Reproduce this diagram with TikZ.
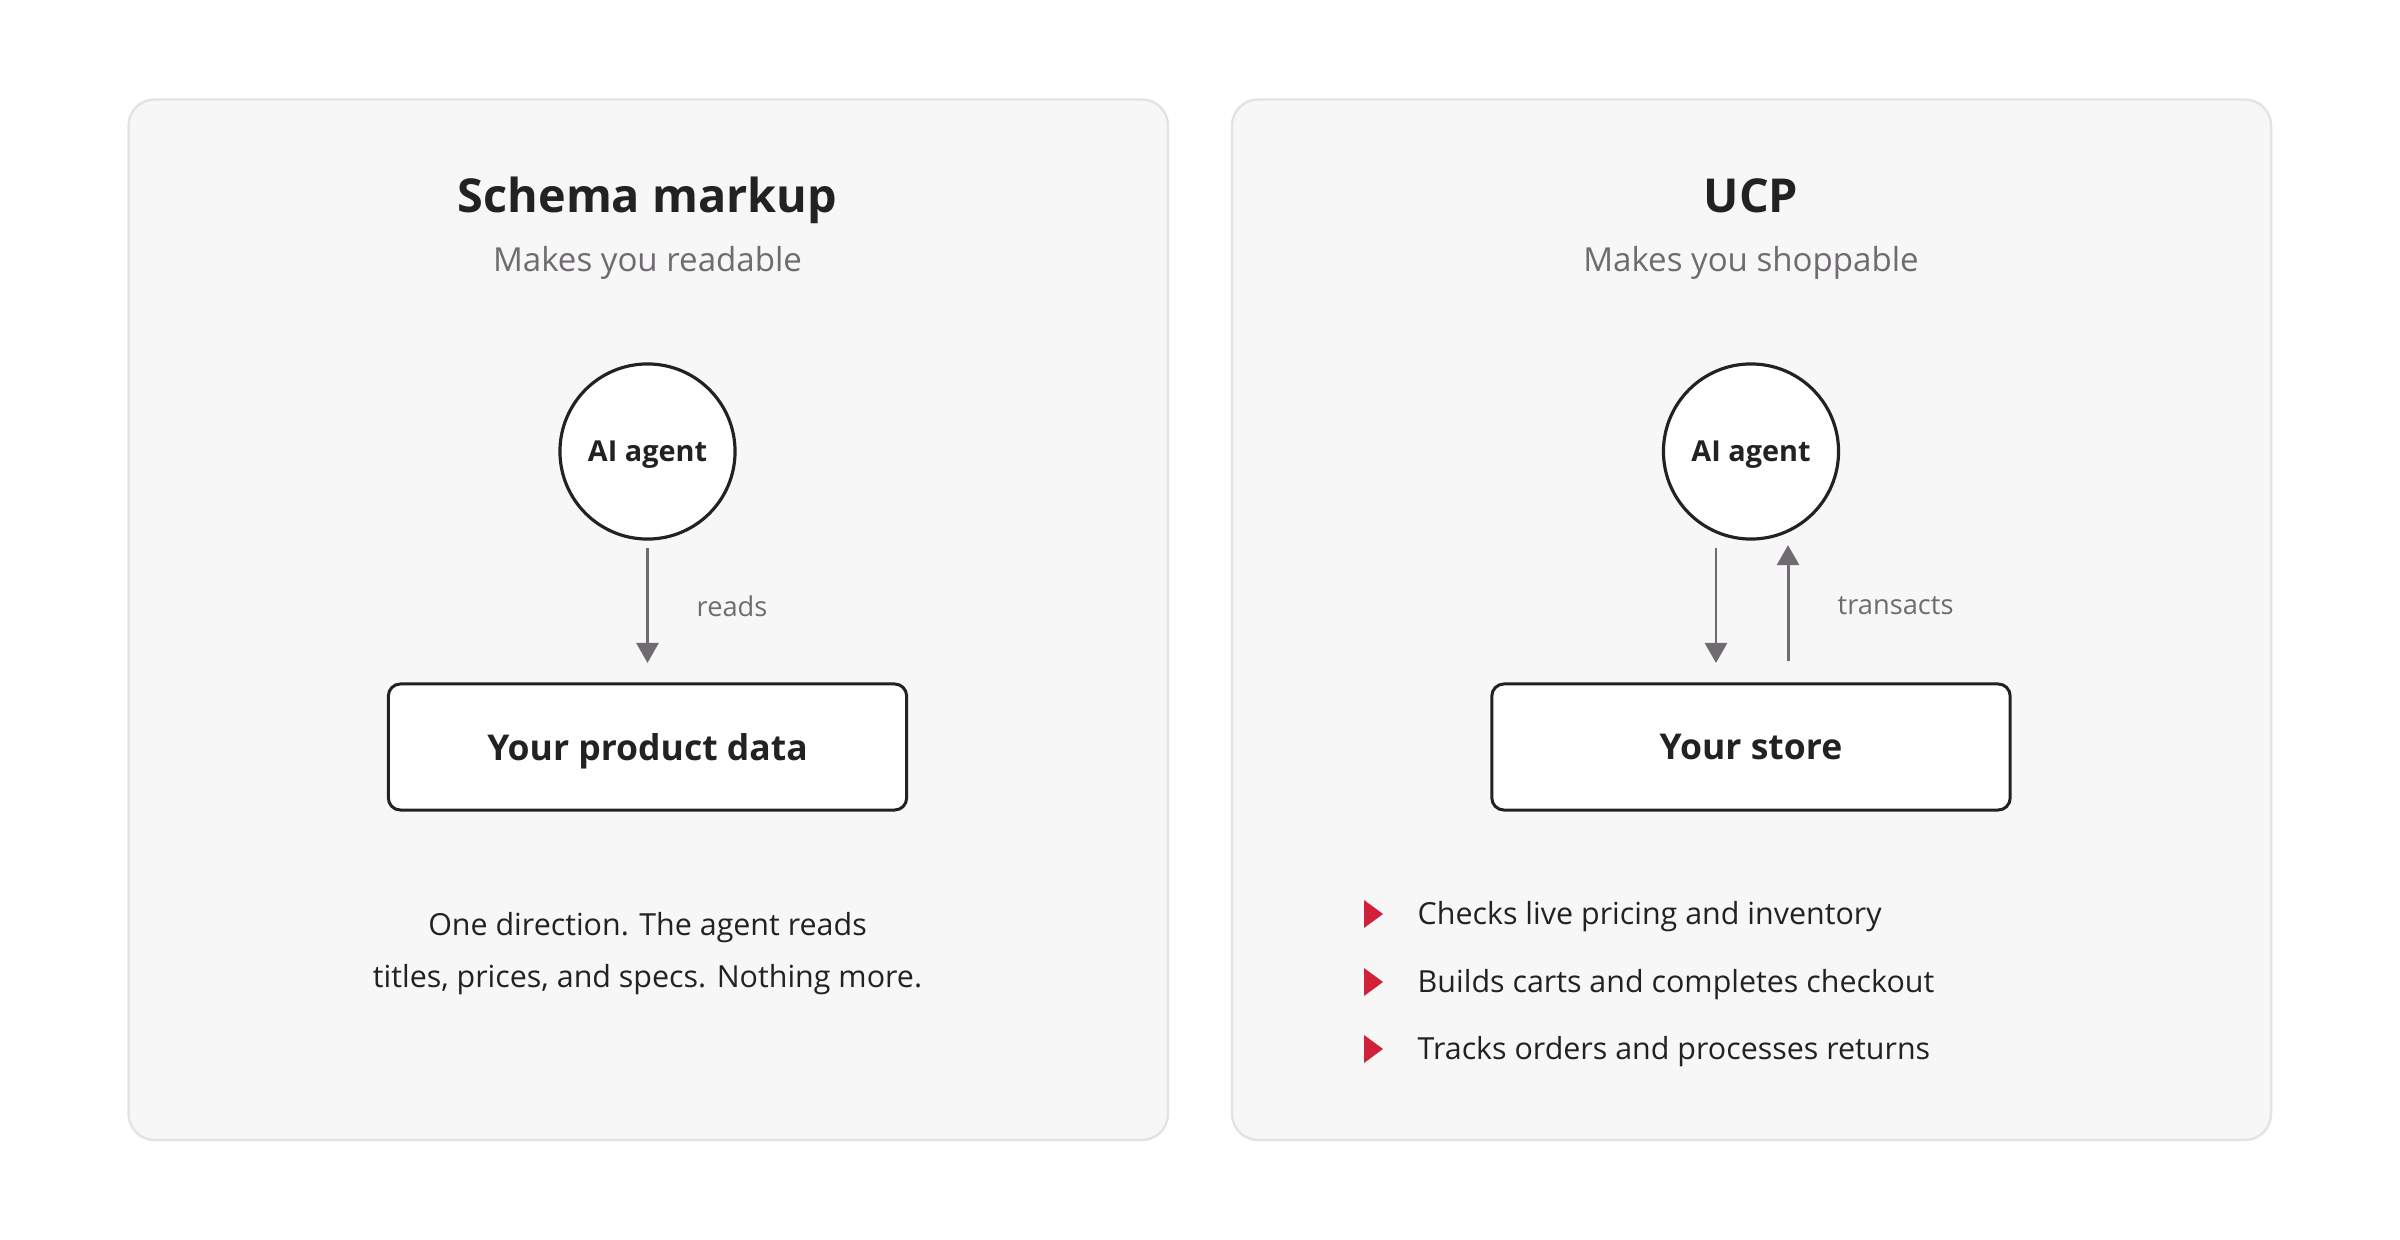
\documentclass[tikz,border=0pt]{standalone}
\usepackage{fontspec}
\setmainfont{Open Sans}
\usetikzlibrary{arrows.meta}
\definecolor{tinta}{HTML}{222222}
\definecolor{gris}{HTML}{6F6B70}
\definecolor{fondo}{HTML}{F7F7F7}
\definecolor{borde}{HTML}{E3E3E3}
\definecolor{rojo}{HTML}{D0203A}
\begin{document}
\begin{tikzpicture}[
    x=0.01cm, y=-0.01cm,
    every node/.style={text=tinta, inner sep=0pt},
    panel/.style={fill=fondo, draw=borde, line width=0.7pt, rounded corners=0.26cm},
    titulo/.style={font=\fontsize{13.3}{16}\selectfont\bfseries, anchor=base},
    subtitulo/.style={font=\fontsize{9.4}{11}\selectfont, text=gris, anchor=base},
    agente/.style={circle, draw=tinta, fill=white, line width=0.9pt,
        minimum size=1.75cm, text depth=0pt,
        font=\fontsize{8.2}{10}\selectfont\bfseries},
    caja/.style={draw=tinta, fill=white, line width=0.85pt, rounded corners=0.12cm,
        minimum width=5.18cm, minimum height=1.26cm, text depth=0pt,
        font=\fontsize{10.1}{12}\selectfont\bfseries},
    flecha/.style={draw=gris, line width=0.85pt, -{Triangle[width=0.22cm,length=0.2cm]}},
    etiqueta/.style={font=\fontsize{7.75}{9}\selectfont, text=gris, anchor=west},
    cuerpo/.style={font=\fontsize{8.65}{10}\selectfont, anchor=base}]
    \useasboundingbox (0,0) rectangle (2400,1240);

    % Paneles de fondo.
    \draw[panel] (128.6,99.5) rectangle (1168,1140);
    \draw[panel] (1232,99.5) rectangle (2271,1140);

    % Panel izquierdo: solo lectura.
    \node[titulo] (tituloA) at (647.5,213) {Schema markup};
    \node[subtitulo] (subA) at (647.5,272) {Makes you readable};
    \node[agente] (agA) at (647.5,451.5) {AI agent};
    \node[caja] (datos) at (647.5,747) {Your product data};
    \draw[flecha, shorten <=0.075cm, shorten >=0.195cm] (agA.south) -- (datos.north);
    \node[etiqueta] (lecA) at (696,606) {reads};
    \node[cuerpo] (notaA) at (647.5,935) {One direction. The agent reads};
    \node[cuerpo] (notaB) at (647.5,987) {titles, prices, and specs. Nothing more.};

    % Panel derecho: ida y vuelta.
    \node[titulo] (tituloB) at (1751,213) {UCP};
    \node[subtitulo] (subB) at (1751,272) {Makes you shoppable};
    \node[agente] (agB) at (1751,451.5) {AI agent};
    \node[caja] (tienda) at (1751,747) {Your store};
    \draw[flecha, shorten <=0.075cm, shorten >=0.195cm]
        ([xshift=-0.35cm]agB.south) -- ([xshift=-0.35cm]tienda.north);
    \draw[flecha, shorten <=0.21cm, shorten >=0.045cm]
        ([xshift=0.37cm]tienda.north) -- ([xshift=0.37cm]agB.south);
    \node[etiqueta] (trans) at (1837,606) {transacts};

    % Lista con vinetas rojas.
    \foreach \y/\t [count=\i] in {924/Checks live pricing and inventory,
        992/Builds carts and completes checkout,
        1059/Tracks orders and processes returns} {
        \fill[rojo] (1364,\y-24) -- (1383,\y-10) -- (1364,\y+4) -- cycle;
        \node[cuerpo, anchor=base west] (punto\i) at (1417,\y) {\t};
    }
\end{tikzpicture}
\end{document}
